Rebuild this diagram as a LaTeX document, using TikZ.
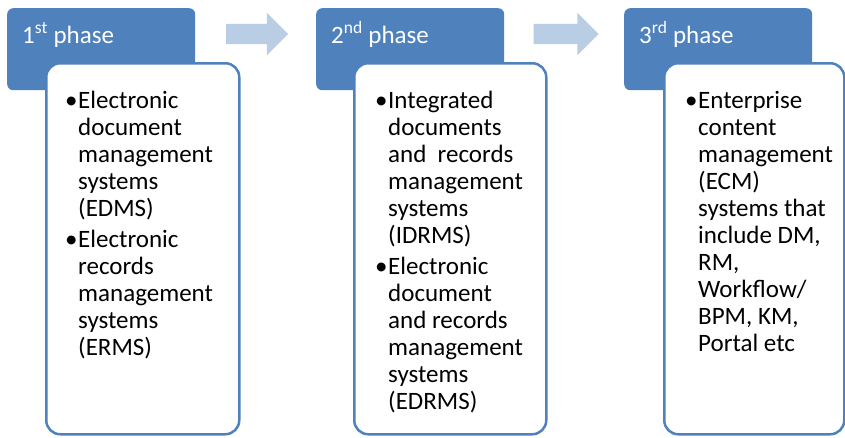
\documentclass[tikz,border=0pt]{standalone}
\usepackage{fontspec}
\setmainfont{Carlito}
\usepackage{xcolor}
\usetikzlibrary{positioning,shapes.arrows}

\definecolor{phaseblue}{HTML}{4F81BD}
\definecolor{arrowblue}{HTML}{B9CDE5}

\begin{document}
\begin{tikzpicture}[x=1pt,y=-1pt,
  every node/.style={font=\fontsize{25}{27}\selectfont}
]

\tikzstyle{phasebox}=[fill=phaseblue,rounded corners=6pt,minimum width=188pt,minimum height=82pt,anchor=north west,inner sep=0pt]
\tikzstyle{phasetext}=[text=white,anchor=base west,inner sep=0pt]
\tikzstyle{bodybox}=[draw=phaseblue,line width=2.5pt,fill=white,rounded corners=14pt,anchor=north west,inner sep=0pt,minimum height=371pt]
\tikzstyle{chevron}=[single arrow,fill=arrowblue,inner xsep=0pt,inner ysep=10pt,single arrow head extend=11pt,single arrow head indent=0pt]
\tikzset{bullets/.style={anchor=north west,inner sep=0pt,align=left}}

\useasboundingbox (0,0) rectangle (845,437);

% phase headers
\node[phasebox] (p1) at (7,8)   {};
\node[phasebox] (p2) at (316,8) {};
\node[phasebox] (p3) at (624,8) {};

\node[phasetext] (t1) at (22,43)  {1\textsuperscript{st} phase};
\node[phasetext] (t2) at (331,43) {2\textsuperscript{nd} phase};
\node[phasetext] (t3) at (639,43) {3\textsuperscript{rd} phase};

% arrows between phases
\node[chevron,minimum height=62pt] (a1) at (252,34) {};
\node[chevron,minimum height=65pt] (a2) at (561,34) {};

% body boxes
\node[bodybox,minimum width=193pt] (b1) at (45,62)  {};
\node[bodybox,minimum width=192pt] (b2) at (353,62) {};
\node[bodybox,minimum width=180pt] (b3) at (663,62) {};

\node[bullets, below right=27pt and 20pt of b1.north west] (l1) {%
  \begin{tabular}{@{}p{13pt}@{}l@{}}
  \textbullet & Electronic\\
   & document\\
   & management\\
   & systems\\
   & (EDMS)\\[4pt]
  \textbullet & Electronic\\
   & records\\
   & management\\
   & systems\\
   & (ERMS)
  \end{tabular}};

\node[bullets, below right=27pt and 22pt of b2.north west] (l2) {%
  \begin{tabular}{@{}p{13pt}@{}l@{}}
  \textbullet & Integrated\\
   & documents\\
   & and\ \ records\\
   & management\\
   & systems\\
   & (IDRMS)\\[4pt]
  \textbullet & Electronic\\
   & document\\
   & and records\\
   & management\\
   & systems\\
   & (EDRMS)
  \end{tabular}};

\node[bullets, below right=27pt and 22pt of b3.north west] (l3) {%
  \begin{tabular}{@{}p{13pt}@{}l@{}}
  \textbullet & Enterprise\\
   & content\\
   & management\\
   & (ECM)\\
   & systems that\\
   & include DM,\\
   & RM,\\
   & Workflow/\\
   & BPM, KM,\\
   & Portal etc
  \end{tabular}};

\end{tikzpicture}
\end{document}
